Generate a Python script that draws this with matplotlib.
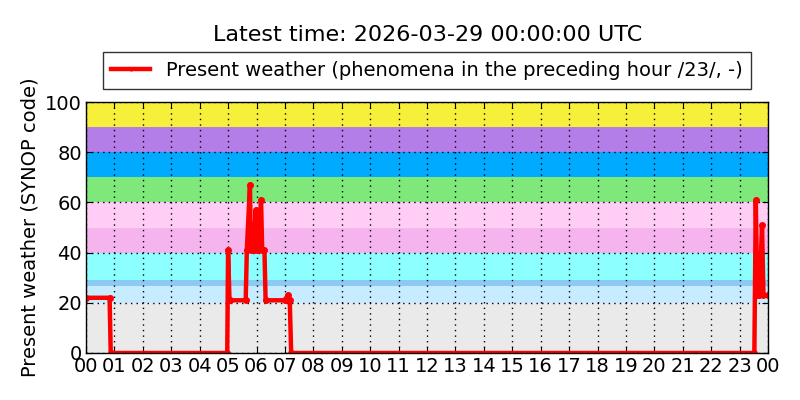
import matplotlib
matplotlib.use('Agg')
import matplotlib.pyplot as plt
import matplotlib.dates as mdates
import pandas as pd

# present weather readings (hour of day, SYNOP code)
hours = [0.0, 0.83, 0.87, 4.97,
         5.0, 5.05, 5.62, 5.66, 5.77, 5.8, 5.86, 5.9, 5.97, 6.02, 6.07, 6.16, 6.2, 6.28, 6.32,
         7.0, 7.1, 7.17, 7.22, 23.52,
         23.57, 23.62, 23.7, 23.79, 23.84, 24.0]
codes = [22, 22, 0, 0,
         41, 21, 21, 41, 67, 41, 51, 41, 57, 41, 41, 61, 41, 41, 21,
         21, 23, 21, 0, 0,
         61, 23, 23, 51, 23, 23]

# background bands for SYNOP code groups
band_lo = [0, 20, 26.5, 29.2, 40, 50, 60, 70, 80, 90]
band_hi = [20, 26.5, 29.2, 40, 50, 60, 70, 80, 90, 100]
band_col = ['#eaeaea', '#c8ecff', '#8ccaf5', '#8cffff', '#f5b4ee',
            '#ffcdf5', '#7ee87a', '#00aaff', '#b47ee8', '#f7f03a']

day = pd.Timestamp('2026-03-28 00:00')
t = [day + pd.Timedelta(hours=h) for h in hours]

plt.rcParams['font.family'] = 'DejaVu Sans'
fig = plt.figure(figsize=(8, 4), dpi=100)
ax = fig.add_axes([0.1075, 0.1175, 0.8525, 0.6275])

for lo, hi, c in zip(band_lo, band_hi, band_col):
    ax.axhspan(lo, hi, color=c, lw=0, zorder=0)

ax.plot(t, codes, color='red', lw=3.2, marker='o', ms=4, mec='red', zorder=3,
        label='Present weather (phenomena in the preceding hour /23/, -)')

ax.set_xlim(day, day + pd.Timedelta(hours=24))
ax.set_ylim(0, 100)
ax.xaxis.set_major_locator(mdates.HourLocator(interval=1))
ax.xaxis.set_major_formatter(mdates.DateFormatter('%H'))
ax.set_yticks([0, 20, 40, 60, 80, 100])
ax.tick_params(direction='in', top=True, right=True, labelsize=14, length=4, pad=3)
ax.grid(True, color='black', ls=(0, (1, 3)), lw=1, zorder=1)
ax.set_axisbelow(False)
for s in ax.spines.values():
    s.set_linewidth(1)
    s.set_zorder(4)

ax.set_ylabel('Present weather (SYNOP code)', fontsize=14)
fig.text(0.535, 0.9125, 'Latest time: 2026-03-29 00:00:00 UTC', ha='center', va='center', fontsize=16)
leg = ax.legend(loc='lower center', bbox_to_anchor=(0.5, 1.015), fontsize=14, numpoints=1,
                frameon=True, fancybox=False, edgecolor='black', borderpad=0.45,
                handlelength=2.0, markerscale=0.5)
leg.get_frame().set_linewidth(1)

fig.savefig('out.png', dpi=100, facecolor='white')
